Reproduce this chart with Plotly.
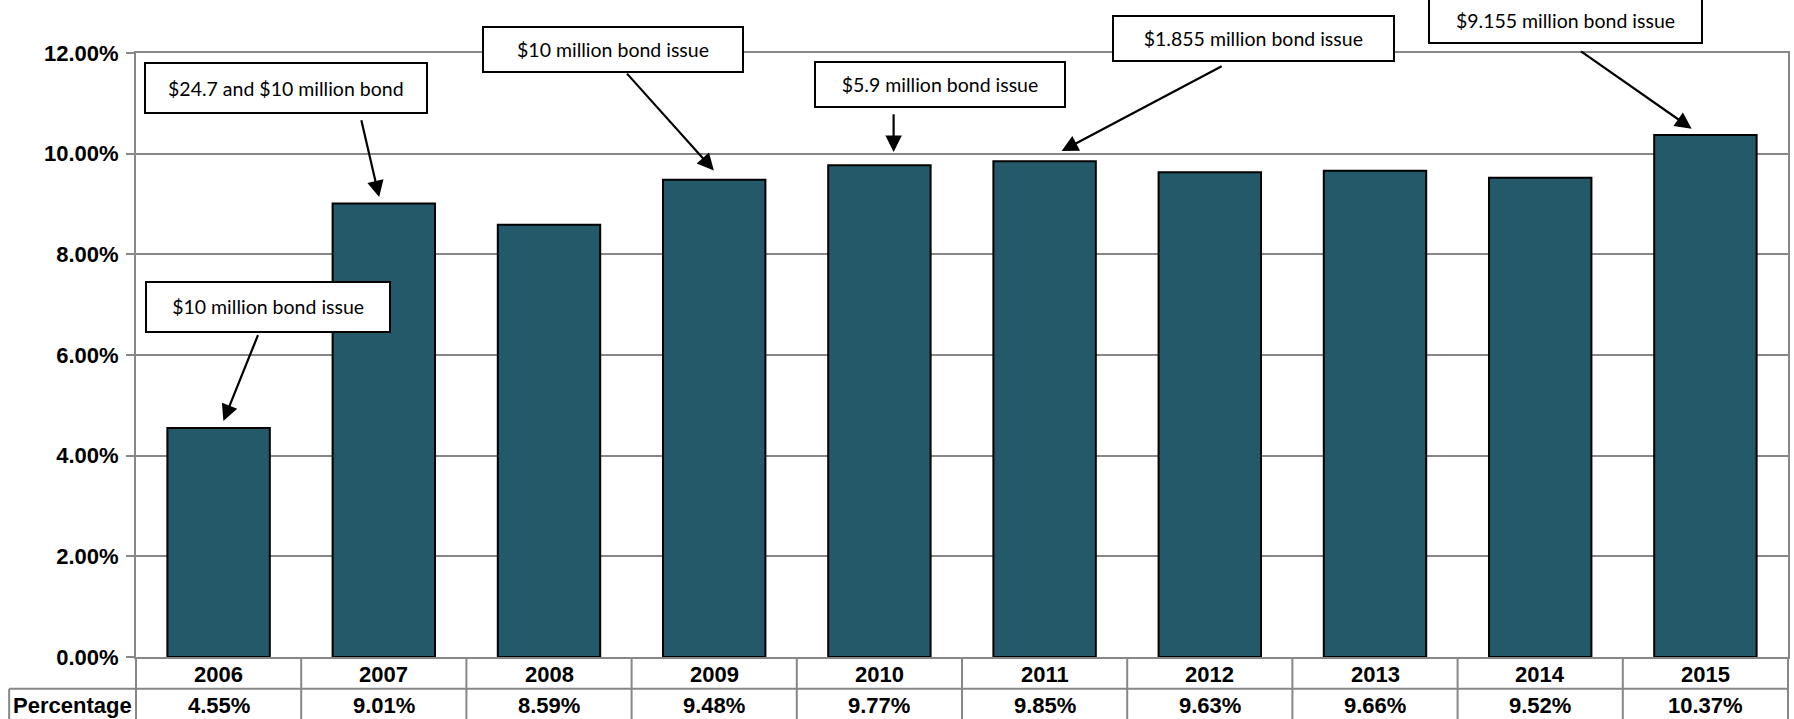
import plotly.graph_objects as go

# ---- data ----
years = ["2006", "2007", "2008", "2009", "2010", "2011", "2012", "2013", "2014", "2015"]
percentages = [4.55, 9.01, 8.59, 9.48, 9.77, 9.85, 9.63, 9.66, 9.52, 10.37]
row_label = "Percentage"
ytick_vals = [0, 2, 4, 6, 8, 10, 12]
ytick_text = ["0.00%", "2.00%", "4.00%", "6.00%", "8.00%", "10.00%", "12.00%"]

callout_texts = [
    "$24.7 and $10 million bond",
    "$10 million bond issue",
    "$10 million bond issue",
    "$5.9 million bond issue",
    "$1.855 million bond issue",
    "$9.155 million bond issue",
]

# ---- layout geometry (pixels) ----
W, H = 1794, 719
ML, MR, MT, MB = 136, 4, 53, 62
PW, PH = W - ML - MR, H - MT - MB


def px2paper(xpx, ypx):
    return (xpx - ML) / PW, (H - MB - ypx) / PH


GRID = "#878787"
BAR = "#235969"
BOLD_FONT = dict(family="Liberation Sans, Arial", size=22, color="black")

fig = go.Figure()
fig.add_bar(
    x=years,
    y=percentages,
    marker=dict(color=BAR, line=dict(color="black", width=2)),
    width=0.62,
    hoverinfo="skip",
)

# callout boxes: (center x px, center y px, width, height)
boxes = [
    (286.5, 87.7, 281.6, 50),
    (267.9, 307.2, 244.3, 49.7),
    (613.3, 49.2, 260, 45),
    (940.7, 84.2, 250, 45),
    (1254.7, 38.4, 280.7, 44.7),
    (1567.5, 20.8, 273, 45),
]
annotations = []
for txt, (cx, cy, bw, bh) in zip(callout_texts, boxes):
    xp, yp = px2paper(cx, cy)
    annotations.append(dict(
        text=txt, x=xp, y=yp, xref="paper", yref="paper",
        xanchor="center", yanchor="middle", showarrow=False,
        width=bw - 2, height=bh - 2, borderpad=0,
        bordercolor="black", borderwidth=2, bgcolor="white",
        font=dict(family="Lato", size=19.5, color="black"),
    ))

# arrows: (tail x, tail y, head x, head y) in data units (category index, %)
arrows = [
    (0.862, 10.695, 0.972, 9.137),
    (0.242, 6.424, 0.029, 4.688),
    (2.464, 11.62, 2.998, 9.668),
    (4.086, 10.814, 4.086, 10.031),
    (6.081, 11.754, 5.103, 10.051),
    (8.238, 12.052, 8.917, 10.496),
]
for tx, ty, hx, hy in arrows:
    annotations.append(dict(
        text="", x=hx, y=hy, xref="x", yref="y",
        ax=tx, ay=ty, axref="x", ayref="y",
        showarrow=True, arrowhead=2, arrowsize=1.5, arrowwidth=2.2,
        arrowcolor="black", standoff=0, startstandoff=0,
    ))

# data table below the plot
year_row_y = px2paper(0, 674.5)[1]
pct_row_y = px2paper(0, 705.5)[1]
for i, (yr, v) in enumerate(zip(years, percentages)):
    xp = (i + 0.5) / len(years)
    annotations.append(dict(
        text=f"<b>{yr}</b>", x=xp, y=year_row_y, xref="paper", yref="paper",
        showarrow=False, xanchor="center", yanchor="middle", font=BOLD_FONT,
    ))
    annotations.append(dict(
        text=f"<b>{v:.2f}%</b>", x=xp, y=pct_row_y, xref="paper", yref="paper",
        showarrow=False, xanchor="center", yanchor="middle", font=BOLD_FONT,
    ))
annotations.append(dict(
    text=f"<b>{row_label}</b>", x=px2paper(72.5, 0)[0], y=pct_row_y,
    xref="paper", yref="paper", showarrow=False,
    xanchor="center", yanchor="middle", font=BOLD_FONT,
))

shapes = []
table_bottom = px2paper(0, 730)[1]
row_sep = px2paper(0, 688.8)[1]
left_cell = px2paper(9, 0)[0]
for i in range(len(years) + 1):
    xp = i / len(years)
    shapes.append(dict(
        type="line", xref="paper", yref="paper", x0=xp, x1=xp,
        y0=0, y1=table_bottom, line=dict(color=GRID, width=2),
    ))
shapes.append(dict(
    type="line", xref="paper", yref="paper", x0=left_cell, x1=1,
    y0=row_sep, y1=row_sep, line=dict(color=GRID, width=2),
))
shapes.append(dict(
    type="line", xref="paper", yref="paper", x0=left_cell, x1=left_cell,
    y0=row_sep, y1=table_bottom, line=dict(color=GRID, width=2),
))

fig.update_layout(
    width=W, height=H,
    margin=dict(l=ML, r=MR, t=MT, b=MB, pad=0),
    paper_bgcolor="white", plot_bgcolor="white",
    showlegend=False,
    bargap=0.38,
    annotations=annotations,
    shapes=shapes,
    xaxis=dict(
        type="category", range=[-0.5, len(years) - 0.5],
        showticklabels=False, ticks="", showgrid=False, zeroline=False,
        showline=True, linecolor=GRID, linewidth=2, mirror=True,
    ),
    yaxis=dict(
        range=[0, 12], tickvals=ytick_vals, ticktext=[f"<b>{t}</b>" for t in ytick_text],
        ticks="outside", ticklen=8, tickcolor=GRID, tickwidth=2,
        ticklabelstandoff=3,
        showgrid=True, gridcolor=GRID, gridwidth=2,
        zeroline=False, showline=True, linecolor=GRID, linewidth=2, mirror=True,
        tickfont=BOLD_FONT,
    ),
)

fig.write_html("out.html")
